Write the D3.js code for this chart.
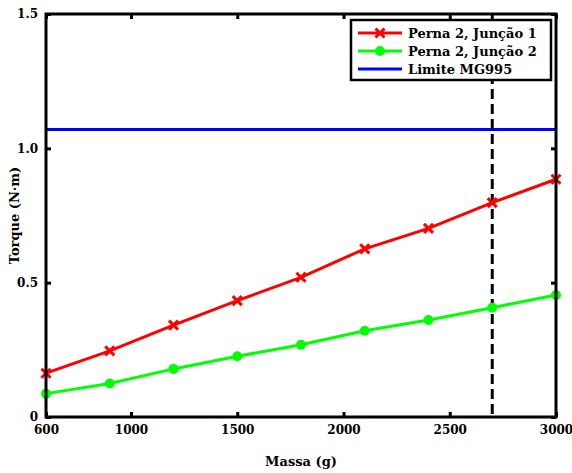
<!DOCTYPE html>
<html lang="en">
<head>
    <meta charset="UTF-8">
    <title>Torque vs Massa</title>
    <script src="https://d3js.org/d3.v7.min.js"></script>
    <style>
        body { margin: 0; background: #fff; }
        svg text {
            font-family: "DejaVu Serif", serif;
            font-weight: bold;
        }
    </style>
</head>
<body>
    <svg id="chart" width="572" height="473"></svg>

    <script>
        // Data
        const massa = [600, 900, 1200, 1500, 1800, 2100, 2400, 2700, 3000];
        const juncao1 = [0.163, 0.246, 0.342, 0.433, 0.520, 0.626, 0.702, 0.798, 0.885];
        const juncao2 = [0.087, 0.125, 0.179, 0.226, 0.269, 0.321, 0.361, 0.407, 0.454];
        const limite = 1.07;
        const massaLimite = 2700;
        const xTicks = [600, 1000, 1500, 2000, 2500, 3000];
        const yTicks = [0, 0.5, 1.0, 1.5];
        const yTickLabels = ["0", "0.5", "1.0", "1.5"];
        const seriesNames = ["Perna 2, Junção 1", "Perna 2, Junção 2", "Limite MG995"];

        const svg = d3.select("#chart");
        const margin = { top: 14, right: 16, bottom: 56, left: 46 };
        const width = +svg.attr("width") - margin.left - margin.right;
        const height = +svg.attr("height") - margin.top - margin.bottom;

        const chart = svg.append("g").attr("transform", `translate(${margin.left},${margin.top})`);

        const x = d3.scaleLinear().domain([600, 3000]).range([0, width]);
        const y = d3.scaleLinear().domain([0, 1.5]).range([height, 0]);

        // limit line
        chart.append("line")
            .attr("x1", 0).attr("x2", width)
            .attr("y1", y(limite)).attr("y2", y(limite))
            .attr("stroke", "#0000ff").attr("stroke-width", 3);

        // vertical dashed line
        chart.append("line")
            .attr("x1", x(massaLimite)).attr("x2", x(massaLimite))
            .attr("y1", 0).attr("y2", height)
            .attr("stroke", "#000").attr("stroke-width", 3)
            .attr("stroke-dasharray", "10,5");

        const line = d3.line().x(d => x(d[0])).y(d => y(d[1]));
        const pts1 = massa.map((m, i) => [m, juncao1[i]]);
        const pts2 = massa.map((m, i) => [m, juncao2[i]]);

        chart.append("path").datum(pts1)
            .attr("fill", "none").attr("stroke", "#ff0000").attr("stroke-width", 3)
            .attr("d", line);
        chart.append("path").datum(pts2)
            .attr("fill", "none").attr("stroke", "#00ff00").attr("stroke-width", 3)
            .attr("d", line);

        const cross = d3.symbol().type(d3.symbolX).size(55);
        chart.selectAll(".m1").data(pts1).enter().append("path")
            .attr("class", "m1")
            .attr("transform", d => `translate(${x(d[0])},${y(d[1])})`)
            .attr("d", cross)
            .attr("stroke", "#ff0000").attr("stroke-width", 3).attr("fill", "none");

        chart.selectAll(".m2").data(pts2).enter().append("circle")
            .attr("class", "m2")
            .attr("cx", d => x(d[0])).attr("cy", d => y(d[1]))
            .attr("r", 5).attr("fill", "#00ff00");

        // axes with inward ticks, mirrored on top and right
        const tickLen = 5;
        const xAxis = d3.axisBottom(x).tickValues(xTicks).tickSize(-tickLen).tickPadding(8)
            .tickFormat(d3.format("d"));
        const yAxis = d3.axisLeft(y).tickValues(yTicks).tickSize(-tickLen).tickPadding(8)
            .tickFormat((d, i) => yTickLabels[i]);

        const gx = chart.append("g").attr("transform", `translate(0,${height})`).call(xAxis);
        const gy = chart.append("g").call(yAxis);
        chart.append("g").call(d3.axisTop(x).tickValues(xTicks).tickSize(-tickLen).tickFormat(""));
        chart.append("g").attr("transform", `translate(${width},0)`)
            .call(d3.axisRight(y).tickValues(yTicks).tickSize(-tickLen).tickFormat(""));

        chart.selectAll(".domain").remove();
        chart.selectAll(".tick line").attr("stroke", "#000").attr("stroke-width", 3);
        gx.selectAll("text").attr("font-size", 12).attr("fill", "#000");
        gy.selectAll("text").attr("font-size", 12).attr("fill", "#000");

        // box
        chart.append("rect")
            .attr("width", width).attr("height", height)
            .attr("fill", "none").attr("stroke", "#000").attr("stroke-width", 3);

        // axis titles
        svg.append("text")
            .attr("x", margin.left + width / 2).attr("y", 466)
            .attr("text-anchor", "middle").attr("font-size", 13)
            .text("Massa (g)");
        svg.append("text")
            .attr("transform", `translate(19,${margin.top + height / 2}) rotate(-90)`)
            .attr("text-anchor", "middle").attr("font-size", 13)
            .text("Torque (N·m)");

        // legend
        const legend = svg.append("g").attr("transform", "translate(351,20)");
        legend.append("rect")
            .attr("width", 200).attr("height", 60)
            .attr("fill", "#fff").attr("stroke", "#000").attr("stroke-width", 2.5);
        const colors = ["#ff0000", "#00ff00", "#0000ff"];
        seriesNames.forEach((name, i) => {
            const ly = 13 + i * 18;
            legend.append("line")
                .attr("x1", 7).attr("x2", 51).attr("y1", ly).attr("y2", ly)
                .attr("stroke", colors[i]).attr("stroke-width", 3);
            if (i === 0) {
                legend.append("path").attr("transform", `translate(29,${ly})`)
                    .attr("d", cross).attr("stroke", colors[i]).attr("stroke-width", 3).attr("fill", "none");
            } else if (i === 1) {
                legend.append("circle").attr("cx", 29).attr("cy", ly).attr("r", 5).attr("fill", colors[i]);
            }
            legend.append("text")
                .attr("x", 57).attr("y", ly + 4.5)
                .attr("font-size", 13)
                .text(name);
        });
    </script>
</body>
</html>
